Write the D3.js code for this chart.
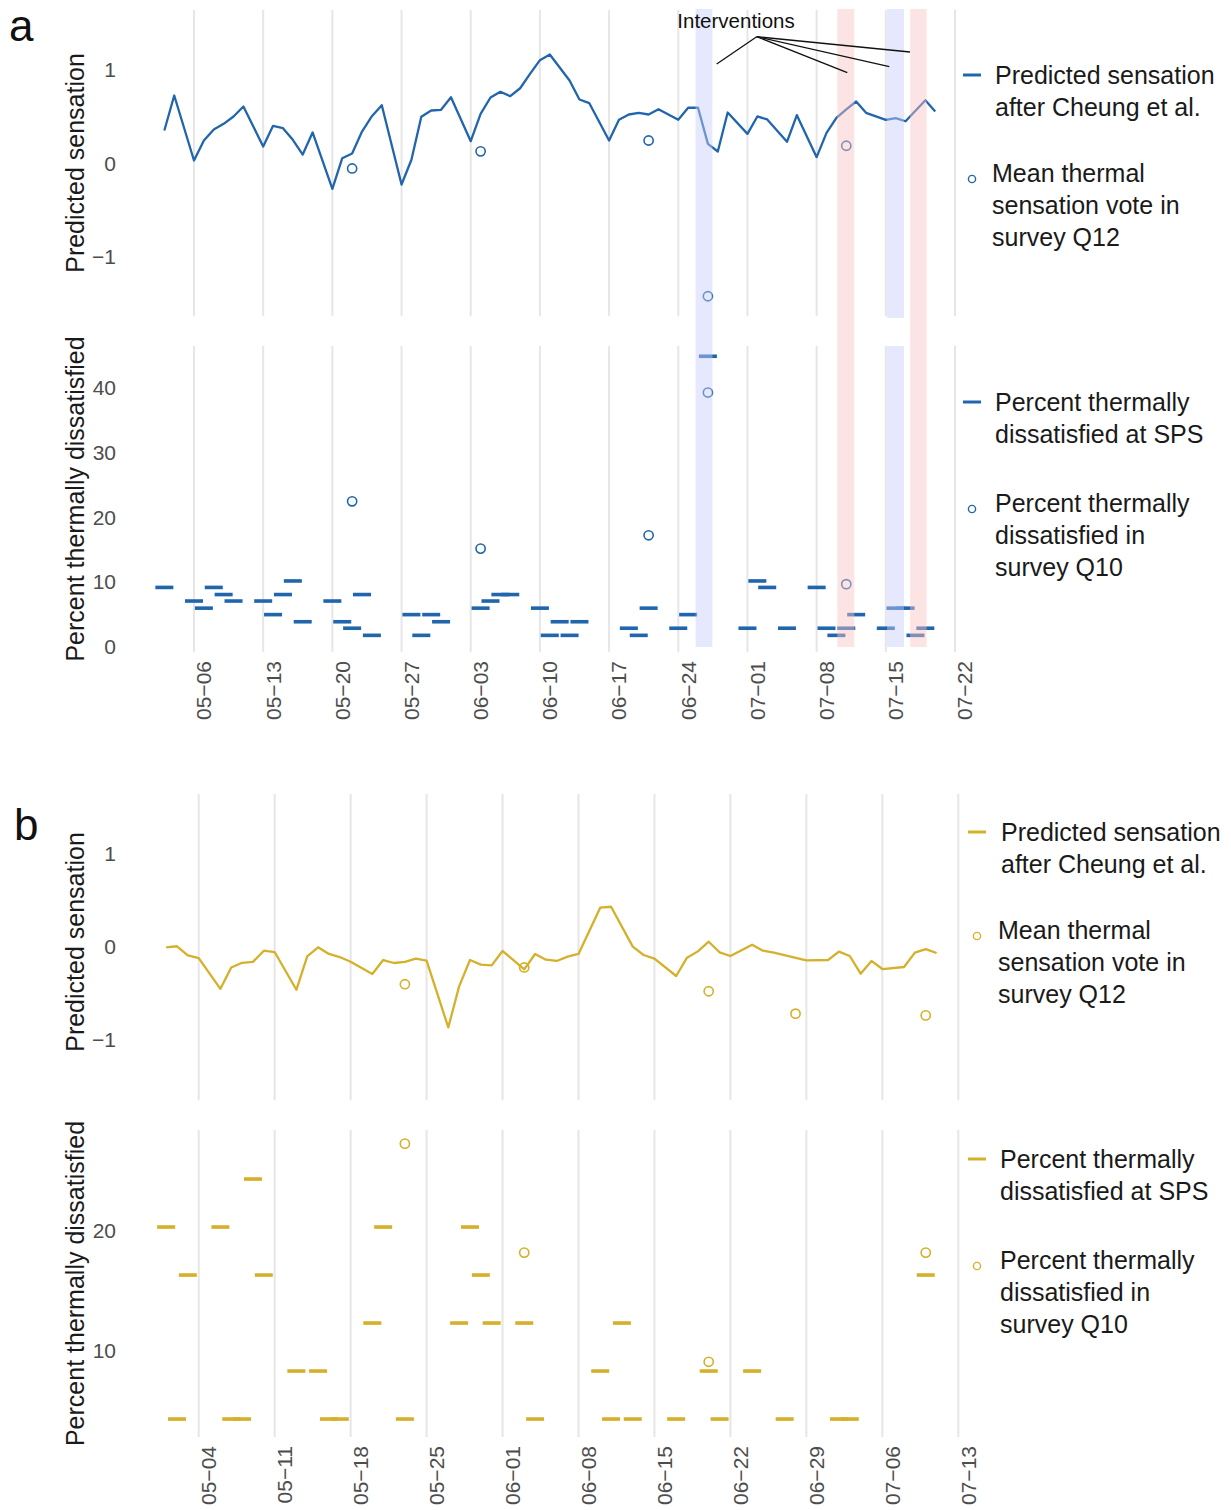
<!DOCTYPE html>
<html><head><meta charset="utf-8">
<script src="https://cdn.jsdelivr.net/npm/d3@7"></script>
<style>body{margin:0;background:#fff;} svg{display:block;font-family:"Liberation Sans",Arial,sans-serif;}</style>
</head><body>
<svg id="c" width="1231" height="1510"></svg>
<script>
const YEAR = 2019;

// ---------- tick labels ----------
const ticksA = ["05-06","05-13","05-20","05-27","06-03","06-10","06-17","06-24","07-01","07-08","07-15","07-22"];
const ticksB = ["05-04","05-11","05-18","05-25","06-01","06-08","06-15","06-22","06-29","07-06","07-13"];
const yTicksTop = [-1, 0, 1];
const yTicksBotA = [0, 10, 20, 30, 40];
const yTicksBotB = [10, 20];

// ---------- panel a data ----------
const sensDatesA = ["05-03","05-04","05-06","05-07","05-08","05-09","05-10","05-11","05-13","05-14","05-15","05-16","05-17","05-18","05-20","05-21","05-22","05-23","05-24","05-25","05-27","05-28","05-29","05-30","05-31","06-01","06-03","06-04","06-05","06-06","06-07","06-08","06-09","06-10","06-11","06-13","06-14","06-15","06-17","06-18","06-19","06-20","06-21","06-22","06-24","06-25","06-26","06-27","06-28","06-29","07-01","07-02","07-03","07-05","07-06","07-08","07-09","07-10","07-11","07-12","07-13","07-15","07-16","07-17","07-19","07-20"];
const sensValsA = [0.353,0.727,0.032,0.246,0.364,0.424,0.503,0.61,0.182,0.403,0.378,0.253,0.096,0.332,-0.271,0.057,0.107,0.342,0.506,0.624,-0.225,0.04,0.5,0.567,0.574,0.709,0.239,0.531,0.706,0.767,0.72,0.805,0.959,1.105,1.166,0.888,0.684,0.645,0.246,0.467,0.524,0.542,0.524,0.581,0.467,0.596,0.596,0.21,0.128,0.545,0.317,0.503,0.471,0.232,0.517,0.068,0.328,0.489,0.578,0.663,0.542,0.467,0.485,0.452,0.677,0.556];
const voteDatesA = ["05-22","06-04","06-21","06-27","07-11"];
const voteValsA = [-0.053, 0.13, 0.246, -1.42, 0.19];
const spsDatesA = ["05-03","05-06","05-07","05-08","05-09","05-10","05-13","05-14","05-15","05-16","05-17","05-20","05-21","05-22","05-23","05-24","05-28","05-29","05-30","05-31","06-04","06-05","06-06","06-07","06-10","06-11","06-12","06-13","06-14","06-19","06-20","06-21","06-24","06-25","06-27","07-01","07-02","07-03","07-05","07-08","07-09","07-10","07-11","07-12","07-15","07-16","07-17","07-18","07-19"];
const spsValsA = [9.2,7.1,6.0,9.2,8.1,7.1,7.1,5.0,8.1,10.2,3.9,7.1,3.9,2.9,8.1,1.8,5.0,1.8,5.0,3.9,6.0,7.1,8.1,8.1,6.0,1.8,3.9,1.8,3.9,2.9,1.8,6.0,2.9,5.0,44.9,2.9,10.2,9.2,2.9,9.2,2.9,1.8,2.9,5.0,2.9,6.0,6.0,1.8,2.9];
const q10DatesA = ["05-22","06-04","06-21","06-27","07-11"];
const q10ValsA = [22.5, 15.2, 17.25, 39.3, 9.7];

// interventions (panel a)
const intStart = ["06-25T18:00","07-10T02:00","07-15T03:00","07-17T11:00"];
const intEnd   = ["06-27T11:00","07-11T19:30","07-16T20:00","07-19T03:00"];
const intType  = ["cool","warm","cool","warm"];

// ---------- panel b data ----------
const sensDatesB = ["05-01","05-02","05-03","05-04","05-06","05-07","05-08","05-09","05-10","05-11","05-13","05-14","05-15","05-16","05-17","05-18","05-20","05-21","05-22","05-23","05-24","05-25","05-27","05-28","05-29","05-30","05-31","06-01","06-03","06-04","06-05","06-06","06-07","06-08","06-10","06-11","06-13","06-14","06-15","06-17","06-18","06-19","06-20","06-21","06-22","06-24","06-25","06-26","06-29","07-01","07-02","07-03","07-04","07-05","07-06","07-08","07-09","07-10","07-11"];
const sensValsB = [-0.004,0.008,-0.09,-0.12,-0.45,-0.22,-0.17,-0.16,-0.04,-0.054,-0.46,-0.10,-0.003,-0.075,-0.108,-0.158,-0.29,-0.14,-0.172,-0.161,-0.125,-0.147,-0.864,-0.423,-0.14,-0.19,-0.197,-0.043,-0.24,-0.075,-0.136,-0.15,-0.104,-0.075,0.423,0.433,0.004,-0.086,-0.125,-0.312,-0.115,-0.047,0.057,-0.057,-0.097,0.025,-0.04,-0.061,-0.143,-0.14,-0.05,-0.097,-0.287,-0.15,-0.237,-0.215,-0.061,-0.022,-0.065];
const voteDatesB = ["05-23","06-03","06-20","06-28","07-10"];
const voteValsB = [-0.40, -0.22, -0.476, -0.717, -0.735];
const spsDatesB = ["05-01","05-02","05-03","05-06","05-07","05-08","05-09","05-10","05-13","05-15","05-16","05-17","05-20","05-21","05-23","05-28","05-29","05-30","05-31","06-03","06-04","06-10","06-11","06-12","06-13","06-17","06-20","06-21","06-24","06-27","07-02","07-03","07-10"];
const spsValsB = [20.33,4.33,16.33,20.33,4.33,4.33,24.33,16.33,8.33,8.33,4.33,4.33,12.33,20.33,4.33,12.33,20.33,16.33,12.33,12.33,4.33,8.33,4.33,12.33,4.33,4.33,8.33,4.33,8.33,4.33,4.33,4.33,16.33];
const q10DatesB = ["05-23","06-03","06-20","07-10"];
const q10ValsB = [27.28, 18.2, 9.1, 18.2];

// ---------- legend labels ----------
const legendLabels = [
  ["Predicted sensation","after Cheung et al."],
  ["Mean thermal","sensation vote in","survey Q12"],
  ["Percent thermally","dissatisfied at SPS"],
  ["Percent thermally","dissatisfied in","survey Q10"]
];
const legendKeys = ["line","circle","line","circle"];

// ================= drawing =================
const parse = s => new Date(`${YEAR}-${s.includes("T") ? s : s + "T00:00"}`);
const zip = (ds, vs) => ds.map((d, i) => ({date: parse(d), v: vs[i]}));
const svg = d3.select("#c");

const BLUE = "#2166ac", GOLD = "#d5b02b";
const GRID = "#e6e6e6", TICK = "#4d4d4d";
const FONT = '"Liberation Sans",Arial,sans-serif';

function drawFigure(cfg) {
  const g = svg.append("g");
  const {x, ticks, top, bot, color} = cfg;

  // gridlines
  [top, bot].forEach(p => {
    g.append("g").selectAll("line").data(ticks.map(parse)).join("line")
      .attr("x1", d => x(d)).attr("x2", d => x(d))
      .attr("y1", p.py0).attr("y2", p.py1)
      .attr("stroke", GRID).attr("stroke-width", 2);
  });

  // y axes
  [[top, yTicksTop], [bot, cfg.botTicks]].forEach(([p, tv]) => {
    const ax = g.append("g").attr("transform", "translate(118,0)")
      .call(d3.axisLeft(p.y).tickValues(tv).tickSize(0).tickPadding(2).tickFormat(d3.format("d")));
    ax.select(".domain").remove();
    ax.selectAll("text").attr("font-size", 21).attr("fill", TICK).attr("font-family", FONT);
  });

  // x axis (bottom)
  const xa = g.append("g").attr("transform", `translate(0,${bot.py1})`)
    .call(d3.axisBottom(x).tickValues(ticks.map(parse)).tickSize(0)
      .tickFormat(d => d3.timeFormat("%m")(d) + "\u2212" + d3.timeFormat("%d")(d)));
  xa.select(".domain").remove();
  xa.selectAll("text").attr("font-size", 21).attr("fill", TICK).attr("font-family", FONT)
    .attr("transform", "rotate(-90)").attr("text-anchor", "end")
    .attr("x", -9).attr("y", 9.5).attr("dy", "0.35em");

  // axis titles
  [[top, "Predicted sensation", cfg.topTitleY], [bot, "Percent thermally dissatisfied", (bot.py0 + bot.py1) / 2]].forEach(([p, t, cy]) => {
    g.append("text").attr("transform", "rotate(-90)")
      .attr("x", -cy).attr("y", 84).attr("text-anchor", "middle")
      .attr("font-size", 25).attr("fill", "#1a1a1a").text(t);
  });

  // top: predicted line
  const line = d3.line().x(d => x(d.date)).y(d => top.y(d.v));
  g.append("path").datum(cfg.sens).attr("d", line)
    .attr("fill", "none").attr("stroke", color).attr("stroke-width", 2.3)
    .attr("stroke-linejoin", "round");
  // top: votes
  g.append("g").selectAll("circle").data(cfg.votes).join("circle")
    .attr("cx", d => x(d.date)).attr("cy", d => top.y(d.v)).attr("r", 4.6)
    .attr("fill", "none").attr("stroke", color).attr("stroke-width", 1.6);
  // bottom: SPS dashes
  g.append("g").selectAll("rect").data(cfg.sps).join("rect")
    .attr("x", d => x(d.date) - 9).attr("y", d => bot.y(d.v) - 1.8)
    .attr("width", 18).attr("height", 3.6).attr("fill", color);
  // bottom: Q10 circles
  g.append("g").selectAll("circle").data(cfg.q10).join("circle")
    .attr("cx", d => x(d.date)).attr("cy", d => bot.y(d.v)).attr("r", 4.6)
    .attr("fill", "none").attr("stroke", color).attr("stroke-width", 1.6);

  // legend
  const L = cfg.legend;
  legendKeys.forEach((k, i) => {
    const ty = L.rows[i];
    if (k === "line") {
      g.append("line").attr("x1", L.keyX - 9).attr("x2", L.keyX + 9)
        .attr("y1", ty).attr("y2", ty).attr("stroke", color).attr("stroke-width", 3);
    } else {
      g.append("circle").attr("cx", L.keyX).attr("cy", ty + 6).attr("r", 3.6)
        .attr("fill", "none").attr("stroke", color).attr("stroke-width", 1.4);
    }
    legendLabels[i].forEach((t, j) => {
      g.append("text").attr("x", L.textX[i]).attr("y", ty + j * 32).attr("dy", "0.35em")
        .attr("font-size", 25).attr("fill", "#1a1a1a").text(t);
    });
  });

  // panel letter
  g.append("text").attr("x", cfg.letter.x).attr("y", cfg.letter.y)
    .attr("font-size", 44).attr("fill", "#111").text(cfg.letter.t);
  return g;
}

// ---------- panel a ----------
const xA = d3.scaleTime().domain([parse("05-06"), parse("07-22")]).range([194, 955]);
const gA = drawFigure({
  x: xA, ticks: ticksA, color: BLUE, botTicks: yTicksBotA, topTitleY: 163,
  top: {y: d3.scaleLinear().domain([-1, 1]).range([257, 70]), py0: 10, py1: 316},
  bot: {y: d3.scaleLinear().domain([0, 40]).range([647, 388]), py0: 346, py1: 652},
  sens: zip(sensDatesA, sensValsA), votes: zip(voteDatesA, voteValsA),
  sps: zip(spsDatesA, spsValsA), q10: zip(q10DatesA, q10ValsA),
  legend: {keyX: 972, textX: [995, 992, 995, 995], rows: [75, 173, 402, 503]},
  letter: {t: "a", x: 9, y: 41}
});

// intervention bands drawn on top, semi-transparent
const bandCol = {cool: "rgb(200,205,250)", warm: "rgb(250,195,195)"};
intStart.forEach((s, i) => {
  const x0 = xA(parse(s)), x1 = xA(parse(intEnd[i]));
  const segs = i === 2 ? [[9, 318], [346, 647]] : [[9, 647]];
  segs.forEach(([a, b]) => {
    gA.append("rect").attr("x", x0).attr("width", x1 - x0).attr("y", a).attr("height", b - a)
      .attr("fill", bandCol[intType[i]]).attr("opacity", 0.45);
  });
});

// "Interventions" annotation
const ann = {tx: 736, ty: 28, ox: 756.7, oy: 36.7, ends: [[716.7, 64], [847.3, 72.7], [889.3, 66.7], [910, 52]]};
gA.append("text").attr("x", ann.tx).attr("y", ann.ty).attr("text-anchor", "middle")
  .attr("font-size", 20.5).attr("fill", "#111").text("Interventions");
ann.ends.forEach(([ex, ey]) => {
  gA.append("line").attr("x1", ann.ox).attr("y1", ann.oy).attr("x2", ex).attr("y2", ey)
    .attr("stroke", "#111").attr("stroke-width", 1.3);
});

// ---------- panel b ----------
const xB = d3.scaleTime().domain([parse("05-04"), parse("07-13")]).range([198.7, 958.3]);
drawFigure({
  x: xB, ticks: ticksB, color: GOLD, botTicks: yTicksBotB, topTitleY: 942,
  top: {y: d3.scaleLinear().domain([-1, 1]).range([1040, 854]), py0: 794, py1: 1100},
  bot: {y: d3.scaleLinear().domain([10, 20]).range([1351, 1231]), py0: 1130, py1: 1437},
  sens: zip(sensDatesB, sensValsB), votes: zip(voteDatesB, voteValsB),
  sps: zip(spsDatesB, spsValsB), q10: zip(q10DatesB, q10ValsB),
  legend: {keyX: 977, textX: [1001, 998, 1000, 1000], rows: [832, 930, 1159, 1260]},
  letter: {t: "b", x: 14, y: 840}
});
</script>
</body></html>
